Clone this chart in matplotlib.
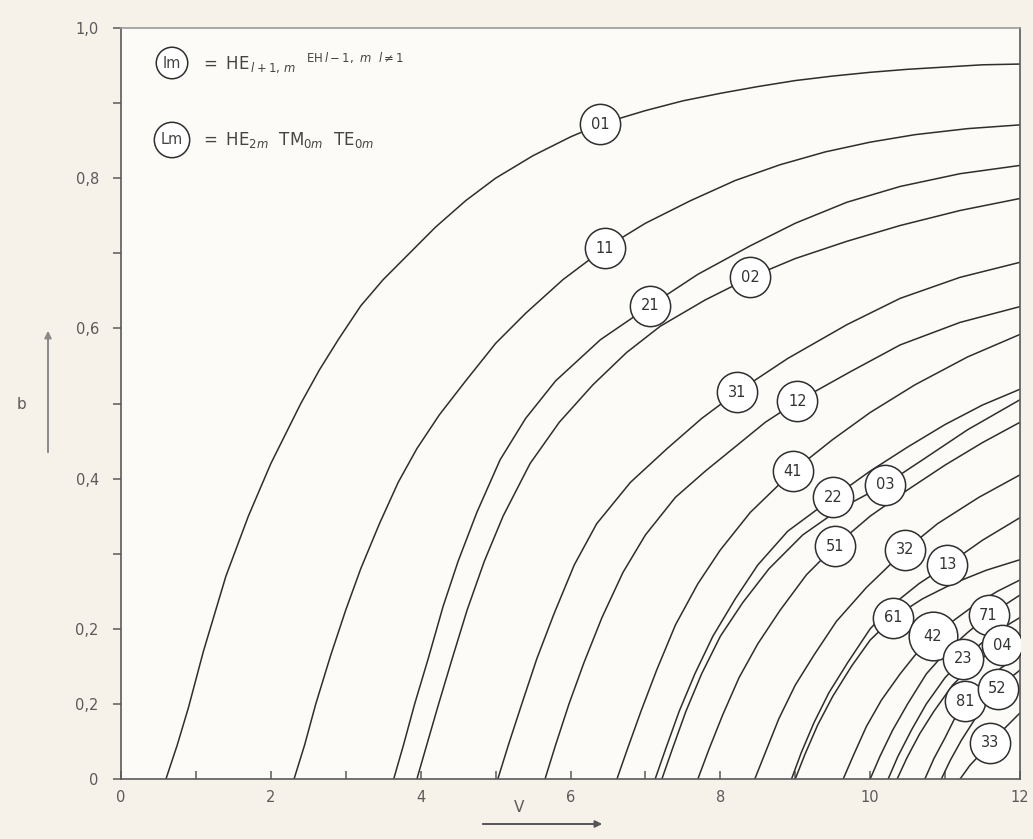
import numpy as np
import matplotlib.pyplot as plt

# b(V) curves of the LP modes
V_01 = [0.60, 0.75, 0.9, 1.1, 1.25, 1.4, 1.55, 1.7, 1.85, 2.0, 2.2, 2.4, 2.65, 2.9, 3.2, 3.5, 3.85,
        4.2, 4.6, 5.0, 5.5, 6.0, 6.4, 7.0, 7.5, 8.0, 8.5, 9.0, 9.5, 10.0, 10.5, 11.0, 11.5, 12.0]
b_01 = [0.0, 0.045, 0.095, 0.17, 0.22, 0.27, 0.31, 0.35, 0.385, 0.42, 0.46, 0.50, 0.545, 0.585, 0.63,
        0.665, 0.70, 0.735, 0.77, 0.80, 0.83, 0.855, 0.872, 0.89, 0.903, 0.913, 0.922, 0.93, 0.936,
        0.941, 0.945, 0.948, 0.951, 0.952]
V_11 = [2.31, 2.45, 2.6, 2.8, 3.0, 3.2, 3.45, 3.7, 3.95, 4.25, 4.6, 5.0, 5.4, 5.9, 6.46, 7.0, 7.6,
        8.2, 8.8, 9.4, 10.0, 10.6, 11.3, 12.0]
b_11 = [0.0, 0.045, 0.10, 0.165, 0.225, 0.28, 0.34, 0.395, 0.44, 0.485, 0.53, 0.58, 0.62, 0.665,
        0.707, 0.74, 0.77, 0.797, 0.818, 0.835, 0.848, 0.858, 0.866, 0.871]
V_21 = [3.64, 3.77, 3.92, 4.1, 4.3, 4.5, 4.75, 5.06, 5.4, 5.8, 6.4, 7.06, 7.7, 8.4, 9.0, 9.69,
        10.4, 11.2, 12.0]
b_21 = [0.0, 0.045, 0.10, 0.16, 0.23, 0.29, 0.355, 0.425, 0.48, 0.53, 0.585, 0.63, 0.672, 0.71,
        0.74, 0.768, 0.789, 0.806, 0.817]
V_02 = [3.95, 4.08, 4.24, 4.42, 4.62, 4.85, 5.1, 5.46, 5.85, 6.3, 6.75, 7.2, 7.8, 8.4, 9.0, 9.69,
        10.4, 11.2, 12.0]
b_02 = [0.0, 0.045, 0.10, 0.16, 0.225, 0.29, 0.35, 0.42, 0.475, 0.525, 0.568, 0.603, 0.638, 0.668,
        0.693, 0.716, 0.737, 0.757, 0.773]
V_31 = [5.03, 5.17, 5.35, 5.55, 5.78, 6.05, 6.35, 6.8, 7.29, 7.75, 8.22, 8.9, 9.69, 10.4, 11.2, 12.0]
b_31 = [0.0, 0.045, 0.10, 0.16, 0.22, 0.285, 0.34, 0.395, 0.44, 0.48, 0.515, 0.56, 0.605, 0.64,
        0.668, 0.688]
V_12 = [5.66, 5.8, 5.98, 6.18, 6.42, 6.7, 7.0, 7.4, 7.8, 8.17, 8.6, 9.03, 9.73, 10.4, 11.2, 12.0]
b_12 = [0.0, 0.045, 0.10, 0.155, 0.215, 0.275, 0.325, 0.375, 0.41, 0.44, 0.475, 0.503, 0.542,
        0.578, 0.608, 0.629]
V_41 = [6.62, 6.76, 6.94, 7.15, 7.4, 7.7, 8.0, 8.4, 8.97, 9.5, 10.0, 10.6, 11.3, 12.0]
b_41 = [0.0, 0.04, 0.09, 0.145, 0.205, 0.26, 0.305, 0.355, 0.41, 0.452, 0.488, 0.525, 0.562, 0.592]
V_22 = [7.13, 7.27, 7.45, 7.66, 7.9, 8.2, 8.5, 8.9, 9.51, 10.0, 10.5, 11.0, 11.5, 12.0]
b_22 = [0.0, 0.04, 0.09, 0.14, 0.19, 0.24, 0.285, 0.33, 0.375, 0.41, 0.442, 0.472, 0.498, 0.519]
V_03 = [7.22, 7.36, 7.54, 7.75, 8.0, 8.3, 8.65, 9.1, 9.6, 10.2, 10.7, 11.3, 12.0]
b_03 = [0.0, 0.04, 0.09, 0.14, 0.19, 0.235, 0.28, 0.325, 0.36, 0.392, 0.425, 0.465, 0.505]
V_51 = [7.70, 7.85, 8.03, 8.25, 8.5, 8.8, 9.15, 9.53, 10.0, 10.5, 11.0, 11.5, 12.0]
b_51 = [0.0, 0.04, 0.085, 0.135, 0.18, 0.225, 0.272, 0.31, 0.35, 0.385, 0.418, 0.448, 0.475]
V_32 = [8.46, 8.6, 8.78, 9.0, 9.25, 9.55, 9.95, 10.47, 10.9, 11.45, 12.0]
b_32 = [0.0, 0.035, 0.08, 0.125, 0.165, 0.21, 0.255, 0.305, 0.34, 0.375, 0.405]
V_13 = [8.95, 9.08, 9.25, 9.45, 9.7, 10.0, 10.3, 10.65, 11.03, 11.5, 12.0]
b_13 = [0.0, 0.035, 0.075, 0.115, 0.155, 0.20, 0.232, 0.26, 0.285, 0.318, 0.348]
V_61 = [9.0, 9.13, 9.3, 9.5, 9.75, 10.0, 10.31, 10.7, 11.1, 11.55, 12.0]
b_61 = [0.0, 0.033, 0.072, 0.11, 0.15, 0.185, 0.215, 0.24, 0.26, 0.278, 0.292]
V_42 = [9.64, 9.77, 9.95, 10.15, 10.4, 10.6, 10.84, 11.1, 11.4, 11.7, 12.0]
b_42 = [0.0, 0.03, 0.07, 0.105, 0.14, 0.165, 0.19, 0.21, 0.232, 0.25, 0.265]
V_71 = [10.0, 10.13, 10.3, 10.5, 10.75, 11.0, 11.3, 11.58, 11.8, 12.0]
b_71 = [0.0, 0.03, 0.065, 0.10, 0.14, 0.168, 0.195, 0.218, 0.232, 0.245]
V_23 = [10.24, 10.37, 10.55, 10.75, 11.0, 11.24, 11.5, 11.75, 12.0]
b_23 = [0.0, 0.03, 0.065, 0.10, 0.135, 0.16, 0.182, 0.20, 0.215]
V_04 = [10.36, 10.49, 10.66, 10.85, 11.1, 11.4, 11.76, 12.0]
b_04 = [0.0, 0.028, 0.06, 0.09, 0.125, 0.155, 0.178, 0.188]
V_81 = [10.73, 10.85, 11.0, 11.15, 11.3, 11.5, 11.75, 12.0]
b_81 = [0.0, 0.027, 0.055, 0.085, 0.108, 0.128, 0.148, 0.165]
V_52 = [10.95, 11.07, 11.22, 11.4, 11.55, 11.7, 11.85, 12.0]
b_52 = [0.0, 0.025, 0.052, 0.08, 0.103, 0.12, 0.133, 0.145]
V_33 = [11.2, 11.33, 11.47, 11.6, 11.8, 12.0]
b_33 = [0.0, 0.018, 0.033, 0.048, 0.068, 0.088]

modes = ['01', '11', '21', '02', '31', '12', '41', '22', '03', '51',
         '32', '13', '61', '42', '71', '23', '04', '81', '52', '33']
curves = [(V_01, b_01), (V_11, b_11), (V_21, b_21), (V_02, b_02), (V_31, b_31),
          (V_12, b_12), (V_41, b_41), (V_22, b_22), (V_03, b_03), (V_51, b_51),
          (V_32, b_32), (V_13, b_13), (V_61, b_61), (V_42, b_42), (V_71, b_71),
          (V_23, b_23), (V_04, b_04), (V_81, b_81), (V_52, b_52), (V_33, b_33)]
# V where each mode's circled label sits on its curve
label_V = [6.4, 6.46, 7.06, 8.4, 8.22, 9.03, 8.97, 9.51, 10.2, 9.53,
           10.47, 11.03, 10.31, 10.84, 11.58, 11.24, 11.76, 11.27, 11.7, 11.6]

x_ticklabels = ['0', '', '2', '', '4', '', '6', '', '8', '', '10', '', '12']
y_ticklabels = ['0', '0,2', '0,2', '', '0,4', '', '0,6', '', '0,8', '', '1,0']

ink = '#2e2e2e'
grey = '#5a5a5a'

fig = plt.figure(figsize=(10.33, 8.39), dpi=100, facecolor='#f6f2ea')
ax = fig.add_axes([121/1033, 60/839, 899/1033, 751/839])
ax.set_facecolor('#fcfbf7')

for (V, b) in curves:
    ax.plot(V, b, color=ink, lw=1.1, zorder=2, solid_joinstyle='round')

for name, (V, b), lv in zip(modes, curves, label_V):
    lb = np.interp(lv, V, b)
    ms = 35 if name == '42' else 29
    ax.plot(lv, lb, 'o', ms=ms, mfc='white', mec=ink, mew=1.1, zorder=3)
    ax.text(lv, lb, name, ha='center', va='center', fontsize=10.5, color='#333333', zorder=4)

ax.set_xlim(0, 12)
ax.set_ylim(0, 1)
ax.set_xticks(range(13))
ax.set_xticklabels(x_ticklabels)
ax.set_yticks(np.linspace(0, 1, 11))
ax.set_yticklabels(y_ticklabels)
ax.tick_params(axis='x', direction='in', length=6, width=1.1, colors=grey, labelsize=10.5, pad=8)
ax.tick_params(axis='y', direction='out', length=6, width=1.1, colors=grey, labelsize=10.5, pad=10)
for s in ax.spines.values():
    s.set_color(grey)
    s.set_linewidth(1.2)
ax.spines['top'].set_color('#9a9a9a')

# mode key in the upper left corner
key_kw = dict(xycoords='figure pixels', ha='center', va='center', fontsize=10.5, color='#444444',
              bbox=dict(boxstyle='circle,pad=0.45', fc='white', ec=ink, lw=1.1))
ax.annotate('lm', xy=(172, 839 - 63), **key_kw)
ax.annotate('Lm', xy=(172, 839 - 140), **key_kw)
ax.annotate(r'$=\ \mathrm{HE}_{\,l+1,\,m}\ \ ^{\mathrm{EH}\,l-1,\ m\ \ l\neq1}$', xy=(200, 839 - 63),
            xycoords='figure pixels', ha='left', va='center', fontsize=12, color='#444444')
ax.annotate(r'$=\ \mathrm{HE}_{2m}\ \ \mathrm{TM}_{0m}\ \ \mathrm{TE}_{0m}$', xy=(200, 839 - 140),
            xycoords='figure pixels', ha='left', va='center', fontsize=12, color='#444444')

# axis names with arrows
fig.text(22/1033, 1 - 405/839, 'b', ha='center', va='center', fontsize=11, color=grey)
ax.annotate('', xy=(48, 839 - 328), xytext=(48, 839 - 455), xycoords='figure pixels',
            arrowprops=dict(arrowstyle='-|>', color='#8a8a8a', lw=1.4), annotation_clip=False)
fig.text(519/1033, 1 - 808/839, 'V', ha='center', va='center', fontsize=11, color=grey)
ax.annotate('', xy=(605, 839 - 824), xytext=(480, 839 - 824), xycoords='figure pixels',
            arrowprops=dict(arrowstyle='-|>', color='#555555', lw=1.4), annotation_clip=False)

fig.savefig('out.png', dpi=100, facecolor=fig.get_facecolor())
